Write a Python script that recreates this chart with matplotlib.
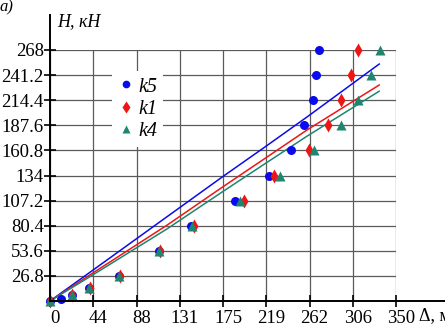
import matplotlib
matplotlib.use("Agg")
import matplotlib.pyplot as plt
import matplotlib.transforms as mtransforms

plt.rcParams['font.family'] = 'serif'
plt.rcParams['font.serif'] = ['Liberation Serif', 'DejaVu Serif']

# measured points (displacement, load)
k5_x = [0, 11, 22, 39.5, 70, 110, 142.5, 187, 221.5, 244, 257, 266, 269, 272]
k5_y = [0, 2, 6.7, 13.4, 26.8, 53.6, 80.4, 107.2, 134, 160.8, 187.6, 214.4, 241.2, 268]
k1_x = [0, 22, 40, 70.5, 111, 145.5, 196, 227, 262, 281, 294, 304.5, 311.5]
k1_y = [0, 6.7, 13.4, 26.8, 53.6, 80.4, 107.2, 134, 160.8, 187.6, 214.4, 241.2, 268]
k4_x = [0, 22, 39.5, 70, 110, 143.5, 192, 232.5, 267, 294, 311.5, 324.5, 334]
k4_y = [0, 6.7, 13.4, 26.8, 53.6, 80.4, 107.2, 134, 160.8, 187.6, 214.4, 241.2, 268]

# calculated curves
l5_x = [0, 43.5, 118.4, 175, 219.5, 260, 333]
l5_y = [0, 33, 90, 133, 166, 196.5, 253]
l1_x = [0, 43.5, 118.4, 175, 219.5, 260, 333]
l1_y = [0, 30, 81, 122, 153.7, 182.6, 230.6]
l4_x = [0, 43.5, 118.4, 175, 219.5, 260, 333]
l4_y = [0, 28, 77, 117, 148, 176, 224]

xticks = [0, 43.75, 87.5, 131.25, 175, 218.75, 262.5, 306.25, 350]
xlabels = ["0", "44", "88", "131", "175", "219", "262", "306", "350"]
yticks = [26.8, 53.6, 80.4, 107.2, 134, 160.8, 187.6, 214.4, 241.2, 268]
ylabels = ["26.8", "53.6", "80.4", "107.2", "134", "160.8", "187.6", "214.4", "241.2", "268"]

blue = '#0a0aee'
red = '#ee1515'
teal = '#1d8570'

fig = plt.figure(figsize=(4.45, 3.27), dpi=100)
ax = fig.add_axes([50/445, 26/327, 346/445, 251/327])

ax.plot(l5_x, l5_y, color=blue, lw=1.1)
ax.plot(l1_x, l1_y, color=red, lw=1.1)
ax.plot(l4_x, l4_y, color=teal, lw=1.1)

ax.plot(k5_x, k5_y, 'o', color=blue, ms=6.5, mec='none', clip_on=False, label='k5', zorder=5)
ax.plot(k1_x, k1_y, 'd', color=red, ms=7.5, mec='none', clip_on=False, label='k1', zorder=5)
ax.plot(k4_x, k4_y, '^', color=teal, ms=6.5, mec='none', clip_on=False, label='k4', zorder=5)

ax.set_xlim(0, 350)
ax.set_ylim(0, 268)
ax.set_xticks(xticks)
ax.set_xticklabels(xlabels)
ax.set_yticks(yticks)
ax.set_yticklabels(ylabels)
ax.grid(True, color='#5a5a5a', lw=0.9)
ax.set_axisbelow(True)

for s in ['top', 'right', 'left', 'bottom']:
    ax.spines[s].set_visible(False)
# long axis lines
ax.plot([0, 0], [0, 1.14], transform=ax.transAxes, color='black', lw=1.4, clip_on=False, zorder=6)
ax.plot([0, 1.15], [0, 0], transform=ax.transAxes, color='black', lw=1.4, clip_on=False, zorder=6)

ax.tick_params(axis='both', direction='inout', length=9, width=1.2, labelsize=13.5, colors='black')
ax.tick_params(axis='y', pad=0)
ax.tick_params(axis='x', pad=2)
offset = mtransforms.ScaledTranslation(5/100, 0, fig.dpi_scale_trans)
for lab in ax.get_xticklabels():
    lab.set_transform(lab.get_transform() + offset)

leg = ax.legend(loc='upper left', bbox_to_anchor=(0.15, 0.955), frameon=True,
                facecolor='white', edgecolor='none', framealpha=1,
                prop={'style': 'italic', 'size': 14.5}, handlelength=0.8,
                handletextpad=0.2, labelspacing=0.15, borderpad=0.3, markerscale=0.85)
leg.set_zorder(4)

fig.text(57/445, 1 - 22/327, "H, кН", fontsize=13, style='italic', va='center', ha='left')
fig.text(0/445, 1 - 7/327, "a)", fontsize=12, style='italic', va='center', ha='left')
fig.text(419/445, 1 - 316/327, "Δ, мм", fontsize=13, va='center', ha='left')

fig.savefig("out.png", dpi=100)
